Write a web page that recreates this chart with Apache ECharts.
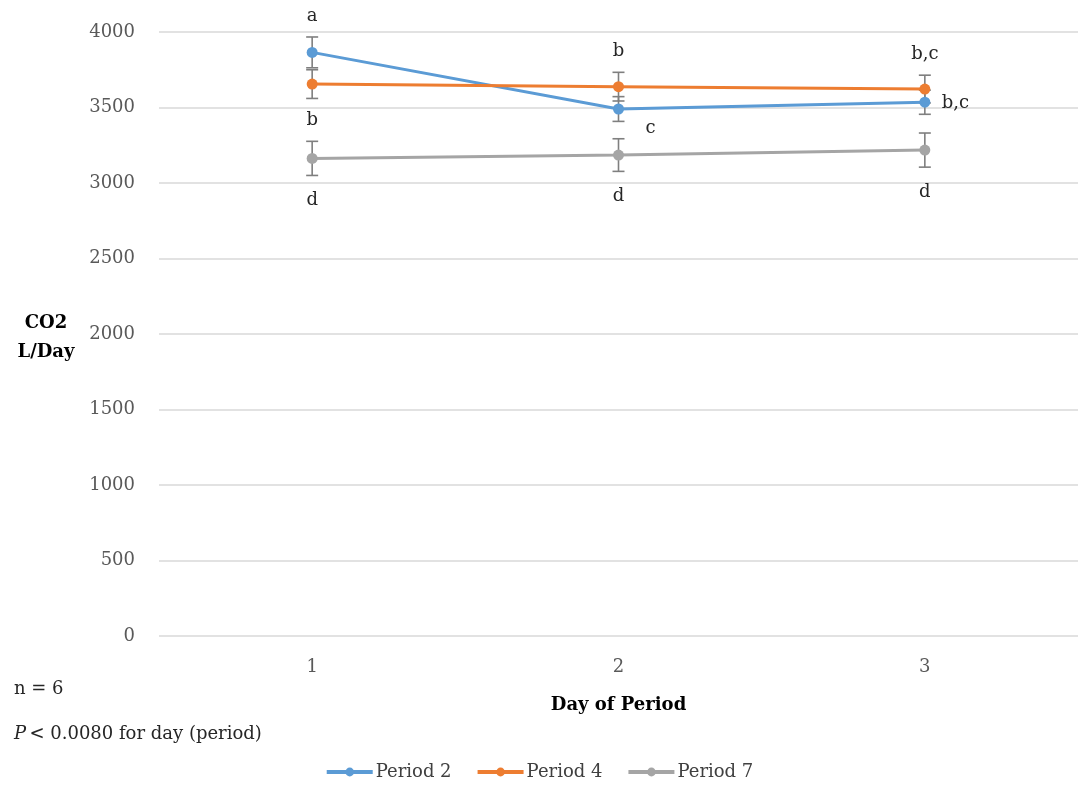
<!DOCTYPE html>
<html><head><meta charset="utf-8">
<script src="https://cdn.jsdelivr.net/npm/echarts@6/dist/echarts.min.js"></script>
<style>html,body{margin:0;padding:0;background:#fff}#c{width:1078px;height:787px}</style>
</head><body><div id="c"></div>
<script>
const categories = ['1', '2', '3'];
const seriesNames = ['Period 2', 'Period 4', 'Period 7'];
const period2 = [3865, 3490, 3535];
const period4 = [3655, 3638, 3622];
const period7 = [3163, 3185, 3218];
const period2Err = [102, 82, 80];
const period4Err = [95, 95, 92];
const period7Err = [113, 108, 113];
// significance letters: [text, placement]
const period2Letters = [['a', 'above'], ['c', 'belowRight'], ['b,c', 'right']];
const period4Letters = [null, ['b', 'above'], ['b,c', 'above']];
const period7LettersAbove = [['b', 'above'], null, null];
const period7LettersBelow = [['d', 'below'], ['d', 'below'], ['d', 'below']];
const yTicks = [0, 500, 1000, 1500, 2000, 2500, 3000, 3500, 4000];

const colors = ['#5B9BD5', '#ED7D31', '#A5A5A5'];
const serif = '"DejaVu Serif", "Liberation Serif", serif';
const values = [period2, period4, period7];
const errs = [period2Err, period4Err, period7Err];

const chart = echarts.init(document.getElementById('c'));

function errSeries(i) {
  return {
    type: 'custom', name: seriesNames[i] + ' err', silent: true, z: 1,
    data: values[i].map((v, k) => [k, v, errs[i][k]]),
    renderItem: function (params, api) {
      const x = api.value(0), v = api.value(1), e = api.value(2);
      const top = api.coord([x, v + e]);
      const bot = api.coord([x, v - e]);
      const hw = 6;
      const st = { stroke: '#7f7f7f', lineWidth: 1.6 };
      return { type: 'group', children: [
        { type: 'line', shape: { x1: top[0], y1: top[1], x2: bot[0], y2: bot[1] }, style: st },
        { type: 'line', shape: { x1: top[0] - hw, y1: top[1], x2: top[0] + hw, y2: top[1] }, style: st },
        { type: 'line', shape: { x1: bot[0] - hw, y1: bot[1], x2: bot[0] + hw, y2: bot[1] }, style: st }
      ]};
    }
  };
}

function letterSeries(i, letters) {
  const data = [];
  letters.forEach((l, k) => { if (l) data.push([k, values[i][k], errs[i][k], l[0], l[1]]); });
  return {
    type: 'custom', silent: true, z: 5,
    data: data,
    renderItem: function (params, api) {
      const d = data[params.dataIndex];
      const pt = api.coord([d[0], d[1]]);
      const top = api.coord([d[0], d[1] + d[2]]);
      const bot = api.coord([d[0], d[1] - d[2]]);
      let x = pt[0], y = pt[1], align = 'center';
      if (d[4] === 'above') { y = top[1] - 21; }
      else if (d[4] === 'below') { y = bot[1] + 25; }
      else if (d[4] === 'right') { x = pt[0] + 17; y = pt[1] + 1; align = 'left'; }
      else if (d[4] === 'belowRight') { x = pt[0] + 27; y = pt[1] + 19; align = 'left'; }
      return { type: 'text', style: { text: d[3], x: x, y: y, align: align, verticalAlign: 'middle',
        font: '18px ' + serif, fill: '#262626' } };
    }
  };
}

const lineSeries = seriesNames.map((n, i) => ({
  name: n, type: 'line', data: values[i], z: 3,
  symbol: 'circle', symbolSize: 11,
  lineStyle: { width: 3, color: colors[i] },
  itemStyle: { color: colors[i] }
}));

chart.setOption({
  animation: false,
  color: colors,
  textStyle: { fontFamily: serif },
  grid: { left: 159, right: -4, top: 32, bottom: 151, containLabel: false },
  xAxis: {
    type: 'category', data: categories, boundaryGap: true,
    axisLine: { show: false }, axisTick: { show: false },
    axisLabel: { color: '#595959', fontSize: 18, fontFamily: serif, margin: 22 },
    name: 'Day of Period', nameLocation: 'middle', nameGap: 60,
    nameTextStyle: { fontWeight: 'bold', fontSize: 18, color: '#000', fontFamily: serif }
  },
  yAxis: {
    type: 'value', min: 0, max: 4000, interval: 500,
    axisLine: { show: false }, axisTick: { show: false },
    splitLine: { lineStyle: { color: '#d9d9d9', width: 1.5 } },
    axisLabel: { color: '#595959', fontSize: 18, fontFamily: serif, margin: 24, formatter: v => String(v) }
  },
  legend: {
    bottom: 1, left: 'center', itemGap: 24, itemWidth: 46, itemHeight: 11,
    lineStyle: { width: 4 },
    textStyle: { color: '#404040', fontSize: 18, fontFamily: serif, padding: [0, 0, 0, -2] },
    data: seriesNames
  },
  graphic: [
    { type: 'text', x: 46, y: 338, style: { text: 'CO2\nL/Day', font: 'bold 18px ' + serif, fill: '#000', align: 'center', verticalAlign: 'middle', lineHeight: 29 } },
    { type: 'text', x: 14, y: 689, style: { text: 'n = 6', font: '18px ' + serif, fill: '#262626', verticalAlign: 'middle' } },
    { type: 'text', x: 14, y: 734, style: { verticalAlign: 'middle', rich: { i: { fontStyle: 'italic', fontSize: 18, fontFamily: serif, fill: '#262626' }, n: { fontSize: 18, fontFamily: serif, fill: '#262626' } },
        text: '{i|P} {n|< 0.0080 for day (period)}' } }
  ],
  series: [
    errSeries(0), errSeries(1), errSeries(2),
    ...lineSeries,
    letterSeries(0, period2Letters),
    letterSeries(1, period4Letters),
    letterSeries(2, period7LettersAbove),
    letterSeries(2, period7LettersBelow)
  ]
});
</script></body></html>
